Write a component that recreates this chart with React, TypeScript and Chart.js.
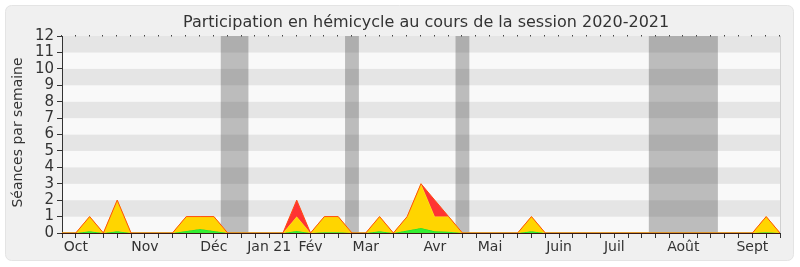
import React, { useEffect, useRef } from 'react';
import { Chart, registerables } from 'chart.js';

Chart.register(...registerables);

// week index 0..52 (x axis), weekly values
const weekIndex = [
  0, 1, 2, 3, 4, 5, 6, 7, 8, 9, 10, 11, 12, 13, 14, 15, 16, 17, 18, 19, 20, 21, 22, 23, 24, 25,
  26, 27, 28, 29, 30, 31, 32, 33, 34, 35, 36, 37, 38, 39, 40, 41, 42, 43, 44, 45, 46, 47, 48, 49, 50, 51, 52,
];

const greenVals = [
  0, 0, 0.1, 0, 0.1, 0, 0, 0, 0, 0.12, 0.25, 0.12, 0, 0, 0, 0, 0, 0.12, 0, 0.05, 0.05, 0, 0, 0.1, 0, 0.15,
  0.3, 0.1, 0.08, 0, 0, 0, 0, 0, 0.1, 0, 0, 0, 0, 0, 0, 0, 0, 0, 0, 0, 0, 0, 0, 0, 0, 0.05, 0,
];
const yellowVals = [
  0, 0, 0.9, 0, 1.9, 0, 0, 0, 0, 0.88, 0.75, 0.88, 0, 0, 0, 0, 0, 0.88, 0, 0.95, 0.95, 0, 0, 0.9, 0, 0.85,
  2.7, 0.9, 0.92, 0, 0, 0, 0, 0, 0.9, 0, 0, 0, 0, 0, 0, 0, 0, 0, 0, 0, 0, 0, 0, 0, 0, 0.95, 0,
];
const redVals = [
  0, 0, 0, 0, 0, 0, 0, 0, 0, 0, 0, 0, 0, 0, 0, 0, 0, 1, 0, 0, 0, 0, 0, 0, 0, 0,
  0, 1, 0, 0, 0, 0, 0, 0, 0, 0, 0, 0, 0, 0, 0, 0, 0, 0, 0, 0, 0, 0, 0, 0, 0, 0, 0,
];

const monthTicks = [1, 6, 11, 15, 18, 22, 27, 31, 36, 40, 45, 50];
const monthNames = ['Oct', 'Nov', 'Déc', 'Jan 21', 'Fév', 'Mar', 'Avr', 'Mai', 'Juin', 'Juil', 'Août', 'Sept'];

const holidayStart = [11.5, 20.5, 28.5, 42.5];
const holidayEnd = [13.5, 21.5, 29.5, 47.5];

const yTicks = [0, 1, 2, 3, 4, 5, 6, 7, 8, 9, 10, 11, 12];

const TITLE = 'Participation en hémicycle au cours de la session 2020-2021';
const Y_TITLE = 'Séances par semaine';
const FONT = 'DejaVu Sans';

export default function App() {
  const ref = useRef<HTMLCanvasElement | null>(null);

  useEffect(() => {
    document.body.style.margin = '0';
    const canvas = ref.current;
    if (!canvas) return;

    const greenTop = weekIndex.map((w, i) => ({ x: w, y: greenVals[i] }));
    const yellowTop = weekIndex.map((w, i) => ({ x: w, y: greenVals[i] + yellowVals[i] }));
    const redTop = weekIndex.map((w, i) => ({ x: w, y: greenVals[i] + yellowVals[i] + redVals[i] }));

    const bgPlugin = {
      id: 'bg',
      beforeDraw(chart: any) {
        const { ctx, chartArea, scales } = chart;
        const { left, right, top, bottom } = chartArea;
        ctx.save();
        ctx.fillStyle = '#ffffff';
        ctx.fillRect(0, 0, chart.width, chart.height);
        // panel
        ctx.beginPath();
        const px = 5.5, py = 5.5, pw = 788, ph = 255, r = 6;
        ctx.moveTo(px + r, py);
        ctx.lineTo(px + pw - r, py);
        ctx.arcTo(px + pw, py, px + pw, py + r, r);
        ctx.lineTo(px + pw, py + ph - r);
        ctx.arcTo(px + pw, py + ph, px + pw - r, py + ph, r);
        ctx.lineTo(px + r, py + ph);
        ctx.arcTo(px, py + ph, px, py + ph - r, r);
        ctx.lineTo(px, py + r);
        ctx.arcTo(px, py, px + r, py, r);
        ctx.closePath();
        ctx.fillStyle = '#f0f0f0';
        ctx.fill();
        ctx.strokeStyle = '#e4e4e4';
        ctx.lineWidth = 1;
        ctx.stroke();
        // stripes
        const ys = scales.y;
        for (let k = 0; k < yTicks.length - 1; k++) {
          const y0 = ys.getPixelForValue(yTicks[k]);
          const y1 = ys.getPixelForValue(yTicks[k + 1]);
          ctx.fillStyle = k % 2 === 1 ? '#e5e5e5' : '#f9f9f9';
          ctx.fillRect(left, y1, right - left, y0 - y1);
        }
        // holiday bands
        const xs = scales.x;
        ctx.fillStyle = 'rgba(64,64,64,0.33)';
        for (let i = 0; i < holidayStart.length; i++) {
          const x0 = xs.getPixelForValue(holidayStart[i]);
          const x1 = xs.getPixelForValue(holidayEnd[i]);
          ctx.fillRect(x0, top, x1 - x0, bottom - top);
        }
        // right border
        ctx.fillStyle = '#d0d0d0';
        ctx.fillRect(Math.round(right), top, 1, bottom - top);
        ctx.restore();
      },
      afterDatasetsDraw(chart: any) {
        const { ctx, chartArea } = chart;
        ctx.save();
        ctx.fillStyle = '#3a1a12';
        ctx.fillRect(chartArea.left - 1, Math.round(chartArea.bottom), chartArea.right - chartArea.left + 1, 1);
        ctx.restore();
      },
      afterDraw(chart: any) {
        const { ctx, chartArea, scales } = chart;
        ctx.save();
        ctx.fillStyle = '#333333';
        ctx.font = `16px "${FONT}"`;
        ctx.textAlign = 'left';
        ctx.textBaseline = 'alphabetic';
        ctx.fillText(TITLE, 183, 27);
        // y title
        ctx.save();
        ctx.translate(22, 132.5);
        ctx.rotate(-Math.PI / 2);
        ctx.font = `14px "${FONT}"`;
        ctx.textAlign = 'center';
        ctx.fillText(Y_TITLE, 0, 0);
        ctx.restore();
        // top tick dots
        ctx.fillStyle = '#444444';
        const xs = scales.x;
        for (const w of weekIndex) {
          const x = Math.round(xs.getPixelForValue(w));
          ctx.fillRect(x - 1, chartArea.top - 1, 1, 1.5);
        }
        ctx.restore();
      },
    };

    const chart = new Chart(canvas, {
      type: 'line',
      data: {
        datasets: [
          {
            label: 'green',
            data: greenTop,
            borderColor: '#22dd22',
            backgroundColor: '#33ee33',
            borderWidth: 1,
            pointRadius: 0,
            fill: 'origin',
            tension: 0,
            order: 3,
          },
          {
            label: 'yellow',
            data: yellowTop,
            borderColor: '#ffee22',
            backgroundColor: '#ffd500',
            borderWidth: 1,
            pointRadius: 0,
            fill: 0,
            tension: 0,
            order: 2,
          },
          {
            label: 'red',
            data: redTop,
            borderColor: '#ff4a10',
            backgroundColor: '#ff3333',
            borderWidth: 1,
            pointRadius: 0,
            fill: 1,
            tension: 0,
            order: 1,
          },
        ],
      },
      options: {
        responsive: false,
        animation: false,
        events: [],
        layout: { padding: { left: 0, right: 20, top: 36, bottom: 0 } },
        plugins: {
          legend: { display: false },
          tooltip: { enabled: false },
          title: { display: false },
        },
        scales: {
          x: {
            type: 'linear',
            min: 0,
            max: 52,
            afterFit: (s: any) => {
              s.height = 34;
            },
            ticks: {
              stepSize: 1,
              autoSkip: false,
              maxRotation: 0,
              includeBounds: true,
              padding: 1,
              color: '#333333',
              font: { family: FONT, size: 14 },
              callback: (v: any) => {
                const idx = monthTicks.indexOf(Number(v));
                return idx >= 0 ? monthNames[idx] : '';
              },
            },
            grid: { drawOnChartArea: false, drawTicks: true, tickLength: 5, color: '#333333' },
            border: { display: true, color: '#333333' },
          },
          y: {
            min: 0,
            max: 12,
            afterFit: (s: any) => {
              s.width = 62;
            },
            ticks: {
              stepSize: 1,
              autoSkip: false,
              padding: 3,
              color: '#333333',
              font: { family: FONT, size: 15 },
            },
            grid: { drawOnChartArea: false, drawTicks: true, tickLength: 5, color: '#333333' },
            border: { display: true, color: '#333333' },
          },
        },
      },
      plugins: [bgPlugin],
    });

    return () => chart.destroy();
  }, []);

  return (
    <div style={{ width: 800, height: 267 }}>
      <canvas ref={ref} width={800} height={267} style={{ display: 'block' }} />
    </div>
  );
}
